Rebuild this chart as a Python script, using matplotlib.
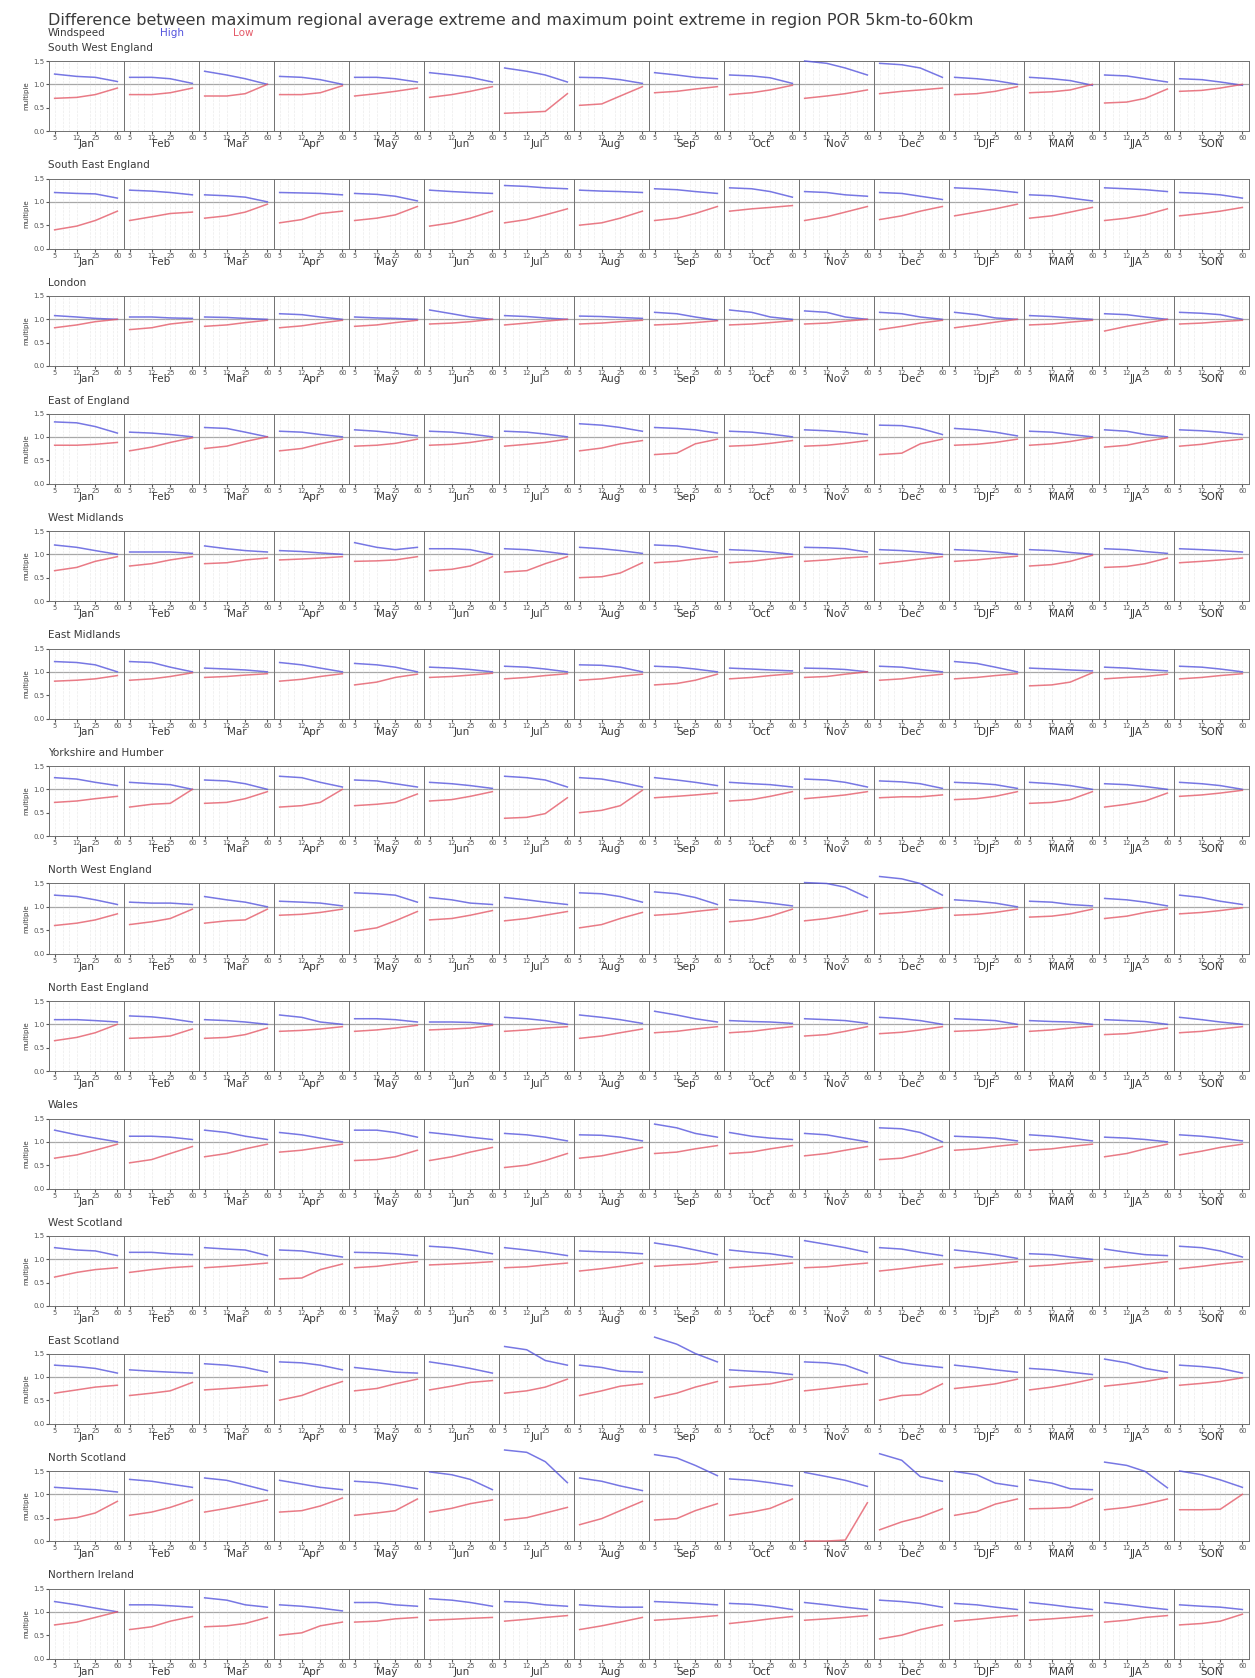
import matplotlib

matplotlib.use("Agg")
import matplotlib.pyplot as plt
from matplotlib.ticker import FixedLocator, NullFormatter

# grid resolutions (km) on the x axis of every panel
scales_km = [5, 12, 25, 60]
scale_labels = ["5", "12", "25", "60"]

periods = ["Jan", "Feb", "Mar", "Apr", "May", "Jun", "Jul", "Aug", "Sep", "Oct", "Nov", "Dec",
           "DJF", "MAM", "JJA", "SON"]

regions = ["South West England", "South East England", "London", "East of England",
           "West Midlands", "East Midlands", "Yorkshire and Humber", "North West England",
           "North East England", "Wales", "West Scotland", "East Scotland", "North Scotland",
           "Northern Ireland"]

# ratio of regional-average maximum to point maximum, one row of 4 scales per period
sw_england_high = [[1.22, 1.17, 1.15, 1.06], [1.15, 1.15, 1.12, 1.02], [1.28, 1.2, 1.12, 1.0], [1.17, 1.15, 1.1, 1.0],
                   [1.15, 1.15, 1.12, 1.05], [1.25, 1.2, 1.15, 1.05], [1.35, 1.28, 1.2, 1.05], [1.15, 1.14, 1.1, 1.02],
                   [1.25, 1.2, 1.15, 1.12], [1.2, 1.18, 1.14, 1.02], [1.5, 1.45, 1.35, 1.2], [1.45, 1.42, 1.35, 1.15],
                   [1.15, 1.12, 1.08, 1.0], [1.15, 1.12, 1.08, 0.98], [1.2, 1.18, 1.12, 1.05], [1.12, 1.1, 1.05, 0.98]]
sw_england_low = [[0.7, 0.72, 0.78, 0.92], [0.78, 0.78, 0.82, 0.92], [0.75, 0.75, 0.8, 1.0], [0.78, 0.78, 0.82, 0.97],
                  [0.75, 0.8, 0.85, 0.92], [0.72, 0.78, 0.85, 0.95], [0.38, 0.4, 0.42, 0.8], [0.55, 0.58, 0.75, 0.95],
                  [0.82, 0.85, 0.9, 0.95], [0.78, 0.82, 0.88, 0.98], [0.7, 0.75, 0.8, 0.88], [0.8, 0.85, 0.88, 0.92],
                  [0.78, 0.8, 0.85, 0.95], [0.82, 0.84, 0.88, 1.0], [0.6, 0.62, 0.7, 0.9], [0.85, 0.87, 0.92, 1.0]]

se_england_high = [[1.2, 1.18, 1.17, 1.08], [1.25, 1.23, 1.2, 1.15], [1.15, 1.13, 1.1, 1.0], [1.2, 1.19, 1.18, 1.15],
                   [1.18, 1.16, 1.12, 1.02], [1.25, 1.22, 1.2, 1.18], [1.35, 1.33, 1.3, 1.28], [1.25, 1.23, 1.22, 1.2],
                   [1.28, 1.26, 1.22, 1.18], [1.3, 1.28, 1.22, 1.1], [1.22, 1.2, 1.15, 1.12], [1.2, 1.18, 1.12, 1.05],
                   [1.3, 1.28, 1.25, 1.2], [1.15, 1.13, 1.08, 1.02], [1.3, 1.28, 1.26, 1.22], [1.2, 1.18, 1.15, 1.08]]
se_england_low = [[0.4, 0.48, 0.6, 0.8], [0.6, 0.68, 0.75, 0.78], [0.65, 0.7, 0.78, 0.95], [0.55, 0.62, 0.75, 0.8],
                  [0.6, 0.65, 0.72, 0.9], [0.48, 0.55, 0.65, 0.8], [0.55, 0.62, 0.72, 0.85], [0.5, 0.55, 0.65, 0.8],
                  [0.6, 0.65, 0.75, 0.9], [0.8, 0.85, 0.88, 0.92], [0.6, 0.68, 0.78, 0.9], [0.62, 0.7, 0.8, 0.9],
                  [0.7, 0.78, 0.85, 0.95], [0.65, 0.7, 0.78, 0.88], [0.6, 0.65, 0.72, 0.85], [0.7, 0.75, 0.8, 0.88]]

london_high = [[1.08, 1.05, 1.02, 1.0], [1.05, 1.05, 1.03, 1.02], [1.05, 1.04, 1.02, 1.0], [1.12, 1.1, 1.05, 1.0],
               [1.05, 1.03, 1.02, 1.0], [1.2, 1.12, 1.05, 1.0], [1.08, 1.06, 1.03, 1.0], [1.07, 1.06, 1.04, 1.02],
               [1.15, 1.12, 1.05, 0.98], [1.2, 1.15, 1.05, 1.0], [1.18, 1.15, 1.05, 1.0], [1.15, 1.12, 1.05, 1.0],
               [1.15, 1.1, 1.03, 1.0], [1.08, 1.06, 1.03, 1.0], [1.12, 1.1, 1.05, 1.0], [1.15, 1.13, 1.1, 1.0]]
london_low = [[0.82, 0.88, 0.95, 1.0], [0.78, 0.82, 0.9, 0.95], [0.85, 0.88, 0.93, 0.98], [0.82, 0.86, 0.92, 0.98],
              [0.85, 0.88, 0.93, 0.98], [0.9, 0.92, 0.95, 1.0], [0.88, 0.92, 0.96, 1.0], [0.9, 0.92, 0.95, 0.98],
              [0.88, 0.9, 0.93, 0.97], [0.88, 0.9, 0.93, 0.97], [0.9, 0.92, 0.96, 1.0], [0.78, 0.85, 0.92, 0.98],
              [0.82, 0.88, 0.94, 1.0], [0.88, 0.9, 0.94, 0.98], [0.75, 0.85, 0.92, 1.0], [0.9, 0.92, 0.95, 0.98]]

e_england_high = [[1.32, 1.3, 1.22, 1.08], [1.1, 1.08, 1.05, 1.0], [1.2, 1.18, 1.1, 1.0], [1.12, 1.1, 1.05, 1.0],
                  [1.15, 1.12, 1.08, 1.02], [1.12, 1.1, 1.06, 1.0], [1.12, 1.1, 1.06, 1.0], [1.28, 1.25, 1.2, 1.12],
                  [1.2, 1.18, 1.15, 1.08], [1.12, 1.1, 1.06, 1.0], [1.15, 1.13, 1.1, 1.05], [1.25, 1.24, 1.18, 1.05],
                  [1.18, 1.15, 1.1, 1.02], [1.12, 1.1, 1.05, 1.0], [1.15, 1.12, 1.05, 1.0], [1.15, 1.13, 1.1, 1.05]]
e_england_low = [[0.82, 0.82, 0.84, 0.88], [0.7, 0.78, 0.88, 0.98], [0.75, 0.8, 0.9, 1.0], [0.7, 0.75, 0.85, 0.95],
                 [0.8, 0.82, 0.86, 0.95], [0.82, 0.84, 0.88, 0.95], [0.8, 0.84, 0.88, 0.95], [0.7, 0.76, 0.85, 0.92],
                 [0.62, 0.65, 0.85, 0.95], [0.8, 0.82, 0.86, 0.92], [0.8, 0.82, 0.86, 0.92], [0.62, 0.65, 0.85, 0.95],
                 [0.82, 0.84, 0.88, 0.95], [0.82, 0.85, 0.9, 0.98], [0.78, 0.82, 0.9, 0.98], [0.8, 0.84, 0.9, 0.95]]

w_midlands_high = [[1.2, 1.15, 1.08, 1.0], [1.05, 1.05, 1.05, 1.02], [1.18, 1.12, 1.08, 1.05], [1.08, 1.06, 1.03, 1.0],
                   [1.25, 1.15, 1.1, 1.15], [1.12, 1.12, 1.1, 1.0], [1.12, 1.1, 1.06, 1.0], [1.15, 1.12, 1.08, 1.02],
                   [1.2, 1.18, 1.12, 1.05], [1.1, 1.08, 1.05, 1.0], [1.15, 1.14, 1.12, 1.05], [1.1, 1.08, 1.05, 1.0],
                   [1.1, 1.08, 1.05, 1.0], [1.1, 1.08, 1.04, 1.0], [1.12, 1.1, 1.06, 1.02], [1.12, 1.1, 1.08, 1.05]]
w_midlands_low = [[0.65, 0.72, 0.85, 0.95], [0.75, 0.8, 0.88, 0.95], [0.8, 0.82, 0.88, 0.92], [0.88, 0.9, 0.92, 0.95],
                  [0.85, 0.86, 0.88, 0.95], [0.65, 0.68, 0.75, 0.95], [0.62, 0.65, 0.8, 0.95], [0.5, 0.52, 0.6, 0.82],
                  [0.82, 0.85, 0.9, 0.95], [0.82, 0.85, 0.9, 0.95], [0.85, 0.88, 0.92, 0.95], [0.8, 0.85, 0.9, 0.95],
                  [0.85, 0.88, 0.92, 0.96], [0.75, 0.78, 0.85, 0.98], [0.72, 0.74, 0.8, 0.92], [0.82, 0.85, 0.88, 0.92]]

e_midlands_high = [[1.22, 1.2, 1.15, 1.0], [1.22, 1.2, 1.1, 1.0], [1.08, 1.06, 1.04, 1.0], [1.2, 1.15, 1.08, 1.0],
                   [1.18, 1.15, 1.1, 1.0], [1.1, 1.08, 1.05, 1.0], [1.12, 1.1, 1.06, 1.0], [1.15, 1.14, 1.1, 1.0],
                   [1.12, 1.1, 1.06, 1.0], [1.08, 1.06, 1.04, 1.02], [1.08, 1.07, 1.05, 1.0], [1.12, 1.1, 1.05, 1.0],
                   [1.22, 1.18, 1.1, 1.0], [1.08, 1.06, 1.04, 1.02], [1.1, 1.08, 1.05, 1.02], [1.12, 1.1, 1.06, 1.0]]
e_midlands_low = [[0.8, 0.82, 0.85, 0.92], [0.82, 0.85, 0.9, 0.98], [0.88, 0.9, 0.93, 0.96], [0.8, 0.84, 0.9, 0.96],
                  [0.72, 0.78, 0.88, 0.95], [0.88, 0.9, 0.93, 0.97], [0.85, 0.88, 0.92, 0.96], [0.82, 0.85, 0.9, 0.95],
                  [0.72, 0.75, 0.82, 0.95], [0.85, 0.88, 0.92, 0.96], [0.88, 0.9, 0.95, 1.0], [0.82, 0.85, 0.9, 0.95],
                  [0.85, 0.88, 0.92, 0.96], [0.7, 0.72, 0.78, 0.98], [0.85, 0.88, 0.9, 0.95], [0.85, 0.88, 0.92, 0.96]]

yorkshire_high = [[1.25, 1.22, 1.15, 1.08], [1.15, 1.12, 1.1, 1.0], [1.2, 1.18, 1.12, 1.0], [1.28, 1.25, 1.15, 1.05],
                  [1.2, 1.18, 1.12, 1.05], [1.15, 1.12, 1.08, 1.02], [1.28, 1.25, 1.2, 1.05], [1.25, 1.22, 1.15, 1.05],
                  [1.25, 1.2, 1.15, 1.08], [1.15, 1.12, 1.1, 1.05], [1.22, 1.2, 1.15, 1.05], [1.18, 1.16, 1.12, 1.02],
                  [1.15, 1.13, 1.1, 1.02], [1.15, 1.12, 1.08, 1.0], [1.12, 1.1, 1.06, 1.0], [1.15, 1.12, 1.08, 1.0]]
yorkshire_low = [[0.72, 0.75, 0.8, 0.85], [0.62, 0.68, 0.7, 1.0], [0.7, 0.72, 0.8, 0.95], [0.62, 0.65, 0.72, 1.0],
                 [0.65, 0.68, 0.72, 0.9], [0.75, 0.78, 0.85, 0.95], [0.38, 0.4, 0.48, 0.82], [0.5, 0.55, 0.65, 0.98],
                 [0.82, 0.85, 0.88, 0.92], [0.75, 0.78, 0.85, 0.95], [0.8, 0.84, 0.88, 0.95], [0.82, 0.84, 0.84, 0.88],
                 [0.78, 0.8, 0.85, 0.95], [0.7, 0.72, 0.78, 0.95], [0.62, 0.68, 0.75, 0.92], [0.85, 0.88, 0.92, 0.98]]

nw_england_high = [[1.25, 1.22, 1.15, 1.05], [1.1, 1.08, 1.08, 1.05], [1.22, 1.15, 1.1, 1.0], [1.12, 1.1, 1.08, 1.02],
                   [1.3, 1.28, 1.25, 1.1], [1.2, 1.15, 1.08, 1.05], [1.2, 1.15, 1.1, 1.05], [1.3, 1.28, 1.22, 1.1],
                   [1.32, 1.28, 1.2, 1.05], [1.15, 1.12, 1.08, 1.02], [1.52, 1.5, 1.42, 1.2], [1.65, 1.6, 1.5, 1.25],
                   [1.15, 1.12, 1.08, 1.0], [1.12, 1.1, 1.05, 1.02], [1.18, 1.15, 1.1, 1.02], [1.25, 1.2, 1.12, 1.05]]
nw_england_low = [[0.6, 0.65, 0.72, 0.85], [0.62, 0.68, 0.75, 0.95], [0.65, 0.7, 0.72, 0.95], [0.82, 0.84, 0.88, 0.95],
                  [0.48, 0.55, 0.7, 0.9], [0.72, 0.75, 0.82, 0.92], [0.7, 0.75, 0.82, 0.9], [0.55, 0.62, 0.75, 0.88],
                  [0.82, 0.85, 0.9, 0.95], [0.68, 0.72, 0.8, 0.95], [0.7, 0.75, 0.82, 0.92], [0.85, 0.88, 0.92, 0.98],
                  [0.82, 0.84, 0.88, 0.95], [0.78, 0.8, 0.85, 0.95], [0.75, 0.8, 0.88, 0.95], [0.85, 0.88, 0.92, 0.98]]

ne_england_high = [[1.1, 1.1, 1.08, 1.05], [1.18, 1.16, 1.12, 1.05], [1.1, 1.08, 1.05, 1.0], [1.2, 1.15, 1.05, 1.0],
                   [1.12, 1.12, 1.1, 1.05], [1.05, 1.05, 1.04, 1.0], [1.15, 1.12, 1.08, 1.0], [1.2, 1.15, 1.1, 1.02],
                   [1.28, 1.2, 1.12, 1.05], [1.08, 1.06, 1.05, 1.02], [1.12, 1.1, 1.08, 1.02], [1.15, 1.12, 1.08, 1.0],
                   [1.12, 1.1, 1.08, 1.0], [1.08, 1.06, 1.05, 1.0], [1.1, 1.08, 1.06, 1.0], [1.15, 1.1, 1.05, 1.0]]
ne_england_low = [[0.65, 0.72, 0.82, 1.0], [0.7, 0.72, 0.75, 0.9], [0.7, 0.72, 0.78, 0.92], [0.85, 0.87, 0.9, 0.95],
                  [0.85, 0.88, 0.92, 0.98], [0.88, 0.9, 0.92, 0.98], [0.85, 0.88, 0.92, 0.95], [0.7, 0.75, 0.82, 0.9],
                  [0.82, 0.85, 0.9, 0.95], [0.82, 0.85, 0.9, 0.95], [0.75, 0.78, 0.85, 0.95], [0.8, 0.83, 0.88, 0.95],
                  [0.85, 0.87, 0.9, 0.95], [0.85, 0.88, 0.92, 0.96], [0.78, 0.8, 0.85, 0.92], [0.82, 0.85, 0.9, 0.95]]

wales_high = [[1.25, 1.15, 1.08, 1.0], [1.12, 1.12, 1.1, 1.05], [1.25, 1.2, 1.12, 1.05], [1.2, 1.15, 1.08, 1.0],
              [1.25, 1.25, 1.2, 1.1], [1.2, 1.15, 1.1, 1.05], [1.18, 1.15, 1.1, 1.02], [1.15, 1.14, 1.1, 1.02],
              [1.38, 1.3, 1.18, 1.1], [1.2, 1.12, 1.08, 1.05], [1.18, 1.15, 1.08, 1.0], [1.3, 1.28, 1.2, 1.0],
              [1.12, 1.1, 1.08, 1.02], [1.15, 1.12, 1.08, 1.02], [1.1, 1.08, 1.05, 1.0], [1.15, 1.12, 1.08, 1.02]]
wales_low = [[0.65, 0.72, 0.82, 0.95], [0.55, 0.62, 0.75, 0.9], [0.68, 0.75, 0.85, 0.95], [0.78, 0.82, 0.88, 0.95],
             [0.6, 0.62, 0.68, 0.82], [0.6, 0.68, 0.78, 0.88], [0.45, 0.5, 0.6, 0.75], [0.65, 0.7, 0.78, 0.88],
             [0.75, 0.78, 0.85, 0.92], [0.75, 0.78, 0.85, 0.92], [0.7, 0.75, 0.82, 0.9], [0.62, 0.65, 0.75, 0.9],
             [0.82, 0.85, 0.9, 0.95], [0.82, 0.85, 0.9, 0.95], [0.68, 0.75, 0.85, 0.95], [0.72, 0.8, 0.88, 0.95]]

w_scotland_high = [[1.25, 1.2, 1.18, 1.08], [1.15, 1.15, 1.12, 1.1], [1.25, 1.22, 1.2, 1.08], [1.2, 1.18, 1.12, 1.05],
                   [1.15, 1.14, 1.12, 1.08], [1.28, 1.25, 1.2, 1.12], [1.25, 1.2, 1.15, 1.08], [1.18, 1.16, 1.15, 1.12],
                   [1.35, 1.28, 1.2, 1.1], [1.2, 1.15, 1.12, 1.05], [1.4, 1.32, 1.25, 1.15], [1.25, 1.22, 1.15, 1.08],
                   [1.2, 1.15, 1.1, 1.02], [1.12, 1.1, 1.05, 1.0], [1.22, 1.15, 1.1, 1.08], [1.28, 1.25, 1.18, 1.05]]
w_scotland_low = [[0.62, 0.72, 0.78, 0.82], [0.72, 0.78, 0.82, 0.85], [0.82, 0.85, 0.88, 0.92], [0.58, 0.6, 0.78, 0.9],
                  [0.82, 0.85, 0.9, 0.95], [0.88, 0.9, 0.92, 0.95], [0.82, 0.84, 0.88, 0.92], [0.75, 0.8, 0.85, 0.92],
                  [0.85, 0.88, 0.9, 0.95], [0.82, 0.85, 0.88, 0.92], [0.82, 0.84, 0.88, 0.92], [0.75, 0.8, 0.85, 0.9],
                  [0.82, 0.86, 0.9, 0.95], [0.85, 0.88, 0.92, 0.96], [0.82, 0.86, 0.9, 0.95], [0.8, 0.85, 0.9, 0.95]]

e_scotland_high = [[1.25, 1.22, 1.18, 1.08], [1.15, 1.12, 1.1, 1.08], [1.28, 1.25, 1.2, 1.1], [1.32, 1.3, 1.25, 1.15],
                   [1.2, 1.15, 1.1, 1.08], [1.32, 1.25, 1.18, 1.08], [1.65, 1.58, 1.35, 1.25], [1.25, 1.2, 1.12, 1.1],
                   [1.85, 1.7, 1.5, 1.32], [1.15, 1.12, 1.1, 1.05], [1.32, 1.3, 1.25, 1.08], [1.45, 1.3, 1.25, 1.2],
                   [1.25, 1.2, 1.15, 1.1], [1.18, 1.15, 1.1, 1.05], [1.38, 1.3, 1.18, 1.1], [1.25, 1.22, 1.18, 1.08]]
e_scotland_low = [[0.65, 0.72, 0.78, 0.82], [0.6, 0.65, 0.7, 0.88], [0.72, 0.75, 0.78, 0.82], [0.5, 0.6, 0.75, 0.9],
                  [0.7, 0.75, 0.85, 0.95], [0.72, 0.8, 0.88, 0.92], [0.65, 0.7, 0.78, 0.95], [0.6, 0.7, 0.8, 0.85],
                  [0.55, 0.65, 0.78, 0.9], [0.78, 0.82, 0.85, 0.95], [0.7, 0.75, 0.8, 0.85], [0.5, 0.6, 0.62, 0.85],
                  [0.75, 0.8, 0.85, 0.95], [0.72, 0.78, 0.85, 0.95], [0.8, 0.85, 0.9, 0.98], [0.82, 0.86, 0.9, 0.98]]

n_scotland_high = [[1.15, 1.12, 1.1, 1.05], [1.32, 1.28, 1.22, 1.15], [1.35, 1.3, 1.2, 1.08], [1.3, 1.22, 1.15, 1.1],
                   [1.28, 1.25, 1.2, 1.12], [1.48, 1.42, 1.32, 1.1], [1.95, 1.9, 1.7, 1.25], [1.35, 1.28, 1.18, 1.08],
                   [1.85, 1.78, 1.62, 1.4], [1.33, 1.3, 1.25, 1.18], [1.47, 1.38, 1.3, 1.17], [1.87, 1.73, 1.38, 1.28],
                   [1.49, 1.42, 1.24, 1.17], [1.31, 1.24, 1.12, 1.1], [1.69, 1.62, 1.49, 1.14], [1.5, 1.42, 1.31, 1.15]]
n_scotland_low = [[0.45, 0.5, 0.6, 0.85], [0.55, 0.62, 0.72, 0.88], [0.62, 0.7, 0.78, 0.88], [0.62, 0.65, 0.75, 0.92],
                  [0.55, 0.6, 0.65, 0.9], [0.62, 0.7, 0.8, 0.88], [0.45, 0.5, 0.6, 0.72], [0.35, 0.48, 0.65, 0.85],
                  [0.45, 0.48, 0.65, 0.8], [0.55, 0.62, 0.7, 0.9], [0.0, 0.0, 0.02, 0.82], [0.24, 0.41, 0.51, 0.69],
                  [0.55, 0.63, 0.79, 0.9], [0.69, 0.7, 0.72, 0.91], [0.67, 0.72, 0.79, 0.9], [0.67, 0.67, 0.68, 1.0]]

n_ireland_high = [[1.22, 1.15, 1.08, 1.0], [1.15, 1.15, 1.13, 1.1], [1.3, 1.25, 1.15, 1.1], [1.15, 1.12, 1.08, 1.02],
                  [1.2, 1.2, 1.15, 1.12], [1.28, 1.25, 1.2, 1.12], [1.22, 1.2, 1.15, 1.12], [1.15, 1.12, 1.1, 1.1],
                  [1.22, 1.2, 1.18, 1.15], [1.18, 1.16, 1.12, 1.05], [1.2, 1.15, 1.1, 1.05], [1.25, 1.22, 1.18, 1.1],
                  [1.18, 1.15, 1.1, 1.05], [1.2, 1.15, 1.1, 1.05], [1.2, 1.15, 1.1, 1.05], [1.15, 1.12, 1.1, 1.05]]
n_ireland_low = [[0.72, 0.78, 0.88, 1.0], [0.62, 0.68, 0.8, 0.9], [0.68, 0.7, 0.75, 0.88], [0.5, 0.55, 0.7, 0.78],
                 [0.78, 0.8, 0.85, 0.88], [0.82, 0.84, 0.86, 0.88], [0.8, 0.84, 0.88, 0.92], [0.62, 0.7, 0.78, 0.88],
                 [0.82, 0.85, 0.88, 0.92], [0.75, 0.8, 0.85, 0.9], [0.82, 0.85, 0.88, 0.92], [0.42, 0.5, 0.62, 0.72],
                 [0.8, 0.84, 0.88, 0.92], [0.82, 0.85, 0.88, 0.92], [0.78, 0.82, 0.88, 0.92], [0.72, 0.75, 0.8, 0.95]]

high_by_region = [sw_england_high, se_england_high, london_high, e_england_high, w_midlands_high,
                  e_midlands_high, yorkshire_high, nw_england_high, ne_england_high, wales_high,
                  w_scotland_high, e_scotland_high, n_scotland_high, n_ireland_high]
low_by_region = [sw_england_low, se_england_low, london_low, e_england_low, w_midlands_low,
                 e_midlands_low, yorkshire_low, nw_england_low, ne_england_low, wales_low,
                 w_scotland_low, e_scotland_low, n_scotland_low, n_ireland_low]

W, H = 1255, 1678
HIGH_COLOR = "#5555dd"
LOW_COLOR = "#e45a68"


def main() -> None:
    fig = plt.figure(figsize=(W / 100, H / 100), dpi=100)
    fig.patch.set_facecolor("white")

    fig.text(48 / W, 1 - 20 / H, "Difference between maximum regional average extreme and maximum point "
             "extreme in region POR 5km-to-60km", fontsize=11.5, color="#3a3a3a", va="center")
    fig.text(48 / W, 1 - 33 / H, "Windspeed", fontsize=7.5, color="#3a3a3a", va="center")
    fig.text(160 / W, 1 - 33 / H, "High", fontsize=7.5, color=HIGH_COLOR, va="center")
    fig.text(233 / W, 1 - 33 / H, "Low", fontsize=7.5, color=LOW_COLOR, va="center")

    # panel grid in pixels: 16 columns per region row
    left, pitch, panel_h, top0, row_pitch = 49, 75, 70, 61, 117.5
    for r, region in enumerate(regions):
        top = top0 + r * row_pitch
        fig.text(48 / W, 1 - (top - 13) / H, region, fontsize=7.5, color="#3a3a3a", va="center")
        for c, period in enumerate(periods):
            ax = fig.add_axes([(left + c * pitch) / W, 1 - (top + panel_h) / H, pitch / W, panel_h / H])
            ax.set_xscale("log")
            ax.set_xlim(4, 78)
            ax.set_ylim(0, 1.5)
            ax.xaxis.set_major_locator(FixedLocator(scales_km))
            ax.xaxis.set_minor_locator(FixedLocator([7, 9, 20, 30, 40, 50]))
            ax.set_xticklabels(scale_labels)
            ax.xaxis.set_minor_formatter(NullFormatter())
            ax.set_yticks([0.0, 0.5, 1.0, 1.5])
            ax.grid(which="both", axis="x", color="#ececec", ls="--", lw=0.5)
            ax.axhline(1.0, color="#a8a8a8", lw=0.9, zorder=1)
            ax.plot(scales_km, high_by_region[r][c], color=HIGH_COLOR, lw=1.1, alpha=0.8, clip_on=False, zorder=3)
            ax.plot(scales_km, low_by_region[r][c], color=LOW_COLOR, lw=1.1, alpha=0.8, clip_on=False, zorder=3)
            for side in ax.spines.values():
                side.set_color("#707070")
                side.set_linewidth(0.7)
            ax.tick_params(axis="x", which="major", labelsize=4.8, length=2, pad=1, colors="#555555")
            ax.tick_params(axis="x", which="minor", length=0)
            ax.tick_params(axis="y", labelsize=5, length=2, pad=1, colors="#555555")
            ax.set_xlabel(period, fontsize=7.5, labelpad=-1.5, color="#3a3a3a")
            if c == 0:
                ax.set_ylabel("multiple", fontsize=5, labelpad=3, color="#3a3a3a")
            else:
                ax.tick_params(axis="y", labelleft=False, length=0)

    fig.savefig("out.png", dpi=100)
    plt.close(fig)


if __name__ == "__main__":
    main()
